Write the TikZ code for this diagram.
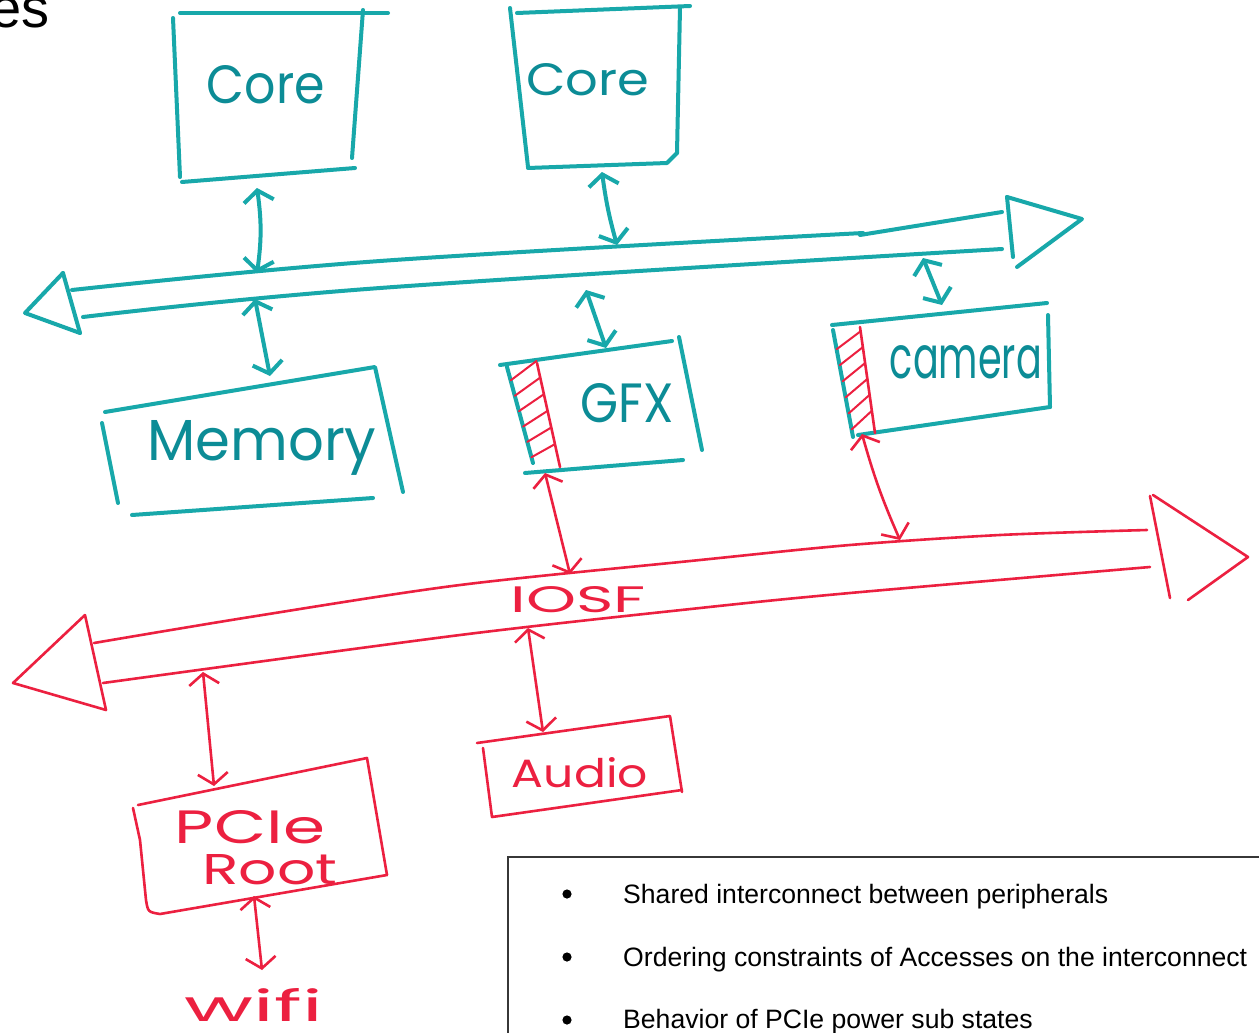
\documentclass[tikz,border=0pt]{standalone}
\usepackage{fontspec}
\setmainfont{Liberation Sans}
\newfontfamily\handfont{Poppins}
\usetikzlibrary{arrows.meta,calc}

\definecolor{marker}{RGB}{24,168,170}
\definecolor{markerdark}{RGB}{12,140,150}
\definecolor{pen}{RGB}{236,32,64}
\definecolor{frame}{RGB}{55,55,55}

% handwritten-looking label of a given width and height
\newcommand{\handword}[3]{\resizebox{#1pt}{#2pt}{\handfont #3}}

\tikzset{
  ink/.style={line width=#1, line cap=round, line join=round},
  tealink/.style={draw=marker, ink=4pt},
  redink/.style={draw=pen, ink=2.6pt},
  hatch/.style={draw=pen, ink=2pt},
  biarrow/.style={<->, >={Straight Barb[length=11pt,width=30pt]}},
  tealarrow/.style={tealink, biarrow},
  redarrow/.style={redink, biarrow},
  tlabel/.style={text=markerdark, inner sep=0pt, anchor=base},
  rlabel/.style={text=pen, inner sep=0pt, anchor=base},
  notetext/.style={font=\fontsize{26.6}{32}\selectfont, inner sep=0pt, anchor=base west},
}

\begin{document}
\begin{tikzpicture}[x=1pt,y=-1pt]
\useasboundingbox (0,0) rectangle (1259,1033);
\fill[white] (0,0) rectangle (1259,1033);

% slide title, cut off by the page edge
\node[anchor=base east, inner sep=0pt, font=\fontsize{56}{60}\selectfont] (title) at (50,28) {es};

% ---------------- teal system bus ----------------
\draw[tealink] plot[smooth, tension=0.6] coordinates {(72,290) (380,261) (863,233)};
\draw[tealink] (860,235) -- (1002,212);
\draw[tealink] plot[smooth, tension=0.6] coordinates {(83,317) (380,288) (1002,249)};
% bus arrow heads
\draw[tealink] (63,273) -- (80,333);
\draw[tealink] (63,273) -- (25,313) -- (80,333);
\draw[tealink] (1007,197) -- (1013,257);
\draw[tealink] (1007,197) -- (1082,219) -- (1017,267);

% bus attachment points
\coordinate (sb-core1) at (257,273);
\coordinate (sb-mem)   at (255,299);
\coordinate (sb-core2) at (617,245);
\coordinate (sb-gfx)   at (586,290);
\coordinate (sb-cam)   at (923,258);

% ---------------- Core (left) ----------------
\draw[tealink] (180,13) -- (388,13);
\draw[tealink] (173,18) -- (180,177);
\draw[tealink] (363,10) -- (352,158);
\draw[tealink] (182,182) -- (355,168);
\node[tlabel] (core1) at (266,103) {\handword{118}{38}{Core}};
\coordinate (core1-s) at (257,188);

% ---------------- Core (right) ----------------
\draw[tealink] (517,13) -- (690,6);
\draw[tealink] (510,8) -- (528,167);
\draw[tealink] (528,168) -- (667,163) -- (677,153);
\draw[tealink] (680,8) -- (677,153);
\node[tlabel] (core2) at (588,95) {\handword{123}{32}{Core}};
\coordinate (core2-s) at (602,172);

% ---------------- Memory ----------------
\draw[tealink] (105,412) -- (375,367) -- (403,492);
\draw[tealink] (102,423) -- (118,503);
\draw[tealink] (132,515) -- (373,498);
\node[tlabel] (memory) at (262,460) {\handword{229}{40}{Memory}};
\coordinate (memory-n) at (270,376);

% ---------------- GFX ----------------
\draw[tealink] (500,365) -- (672,341);
\draw[tealink] (679,337) -- (702,450);
\draw[tealink] (507,367) -- (533,463);
\draw[tealink] (525,473) -- (683,460);
\coordinate (gA) at (507,367); \coordinate (gB) at (533,463);
\coordinate (gC) at (537,363); \coordinate (gD) at (560,467);
\draw[redink] (gC) -- (gD);
\foreach \t/\s in {0.14/-0.02, 0.30/0.14, 0.46/0.30, 0.62/0.46, 0.78/0.62, 0.94/0.78}
  \draw[hatch] ($(gA)!\t!(gB)$) -- ($(gC)!\s!(gD)$);
\node[tlabel] (gfx) at (627,422) {\handword{93}{39}{GFX}};
\coordinate (gfx-n) at (606,348);
\coordinate (gfx-s) at (545,473);

% ---------------- Camera ----------------
\draw[tealink] (832,325) -- (1047,303);
\draw[tealink] (1048,315) -- (1050,407);
\draw[tealink] (833,330) -- (853,437);
\draw[tealink] (858,435) -- (1050,407);
\coordinate (cA) at (833,330); \coordinate (cB) at (853,437);
\coordinate (cC) at (860,327); \coordinate (cD) at (875,433);
\draw[redink] (cC) -- (cD);
\foreach \t/\s in {0.18/0.04, 0.33/0.19, 0.48/0.34, 0.63/0.49, 0.78/0.64, 0.93/0.79}
  \draw[hatch] ($(cA)!\t!(cB)$) -- ($(cC)!\s!(cD)$);
\node[tlabel] (camera) at (966,378) {\handword{152}{33}{camera}};
\coordinate (camera-n) at (942,305);
\coordinate (camera-s) at (862,434);

% teal connectors
\draw[tealarrow] (core1-s) to[bend left=8] (sb-core1);
\draw[tealarrow] (sb-mem) -- (memory-n);
\draw[tealarrow] (core2-s) to[bend right=4] (sb-core2);
\draw[tealarrow] (sb-gfx) -- (gfx-n);
\draw[tealarrow] (sb-cam) -- (camera-n);

% ---------------- red IOSF bus ----------------
\draw[redink] plot[smooth, tension=0.5] coordinates {(94,643) (250,617) (460,585) (700,560) (850,545) (1000,535) (1147,530)};
\draw[redink] plot[smooth, tension=0.5] coordinates {(103,683) (460,635) (700,608) (850,593) (1150,567)};
\draw[redink] (85,615) -- (106,710);
\draw[redink] (85,615) -- (13,683) -- (106,710);
\draw[redink] (1150,496) -- (1170,598);
\draw[redink] (1153,495) -- (1248,557) -- (1188,600);
\node[rlabel] (iosf) at (578,612) {\handword{135}{26}{IOSF}};

\coordinate (io-gfx)   at (570,574);
\coordinate (io-cam)   at (900,540);
\coordinate (io-pcie)  at (203,672);
\coordinate (io-audio) at (528,628);

% ---------------- Audio ----------------
\draw[redink] (477,743) -- (670,716) -- (682,792);
\draw[redink] (483,748) -- (492,817) -- (682,790);
\node[rlabel] (audio) at (580,787) {\handword{136}{30}{Audio}};
\coordinate (audio-n) at (543,732);

% ---------------- PCIe Root ----------------
\draw[redink] (138,805) -- (367,758) -- (387,875);
\draw[redink] (133,808) -- (140,840) -- (146,900) .. controls (148,912) .. (160,914) -- (387,875);
\node[rlabel] (pcie) at (250,843) {\handword{150}{33}{PCIe}};
\node[rlabel] (root) at (270,884) {\handword{135}{30}{Root}};
\coordinate (pcie-n) at (214,786);
\coordinate (pcie-s) at (254,896);

% ---------------- wifi ----------------
\node[rlabel] (wifi) at (254,1021) {\handword{138}{33}{wifi}};
\coordinate (wifi-n) at (262,970);

% red connectors
\draw[redarrow] (gfx-s) -- (io-gfx);
\draw[redarrow] (camera-s) to[bend right=4] (io-cam);
\draw[redarrow] (io-pcie) -- (pcie-n);
\draw[redarrow] (io-audio) -- (audio-n);
\draw[redarrow] (pcie-s) -- (wifi-n);

% ---------------- notes panel ----------------
\draw[frame, line width=1.6pt, fill=white] (508,857) rectangle (1290,1060);
\foreach \y in {894,957,1020} \fill[black] (567,\y) circle (4.6);
\node[notetext] (note1) at (623,903) {Shared interconnect between peripherals};
\node[notetext] (note2) at (623,966) {Ordering constraints of Accesses on the interconnect};
\node[notetext] (note3) at (623,1028) {Behavior of PCIe power sub states};
\end{tikzpicture}
\end{document}
